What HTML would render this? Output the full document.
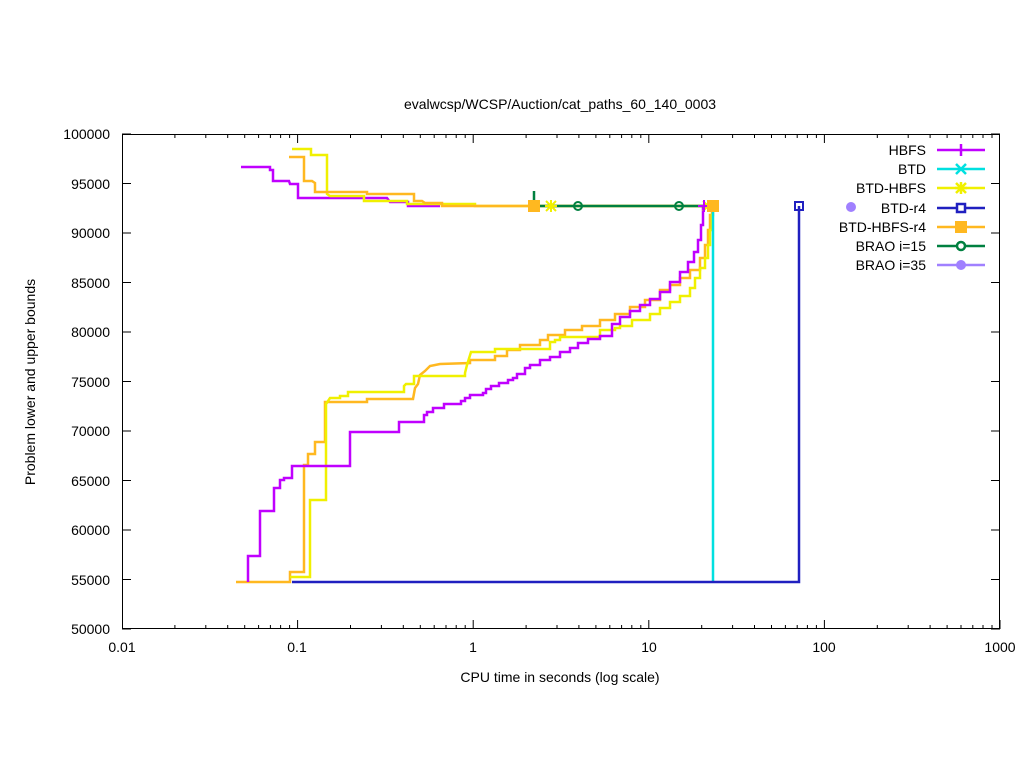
<!DOCTYPE html>
<html><head><meta charset="utf-8"><style>body{margin:0;background:#fff}svg{display:block;font-family:"Liberation Sans",sans-serif}</style></head><body>
<svg width="1024" height="768" viewBox="0 0 1024 768" xmlns="http://www.w3.org/2000/svg">
<rect width="1024" height="768" fill="#fff"/>
<text x="560" y="109" font-size="14" text-anchor="middle">evalwcsp/WCSP/Auction/cat_paths_60_140_0003</text>
<rect x="122.5" y="134.5" width="877" height="494" fill="none" stroke="#000" stroke-width="1"/>
<path stroke="#000" stroke-width="1" fill="none" d="
M122,134h9M122,183.5h9M122,233h9M122,282.5h9M122,332h9M122,381.5h9M122,431h9M122,480.5h9M122,530h9M122,579.5h9M122,629h9
M1000,134h-9M1000,183.5h-9M1000,233h-9M1000,282.5h-9M1000,332h-9M1000,381.5h-9M1000,431h-9M1000,480.5h-9M1000,530h-9M1000,579.5h-9M1000,629h-9
M297.6,629v-9M473.2,629v-9M648.8,629v-9M824.4,629v-9M1000,629v-9
M297.6,134v9M473.2,134v9M648.8,134v9M824.4,134v9
M174.9,629v-4M205.8,629v-4M227.7,629v-4M244.7,629v-4M258.6,629v-4M270.4,629v-4M280.6,629v-4M289.6,629v-4
M350.5,629v-4M381.4,629v-4M403.3,629v-4M420.3,629v-4M434.2,629v-4M446,629v-4M456.2,629v-4M465.2,629v-4
M526.1,629v-4M557,629v-4M578.9,629v-4M595.9,629v-4M609.8,629v-4M621.6,629v-4M631.8,629v-4M640.8,629v-4
M701.7,629v-4M732.6,629v-4M754.5,629v-4M771.5,629v-4M785.4,629v-4M797.2,629v-4M807.4,629v-4M816.4,629v-4
M877.3,629v-4M908.2,629v-4M930.1,629v-4M947.1,629v-4M961,629v-4M972.8,629v-4M983,629v-4M992,629v-4
M174.9,134v4M205.8,134v4M227.7,134v4M244.7,134v4M258.6,134v4M270.4,134v4M280.6,134v4M289.6,134v4
M350.5,134v4M381.4,134v4M403.3,134v4M420.3,134v4M434.2,134v4M446,134v4M456.2,134v4M465.2,134v4
M526.1,134v4M557,134v4M578.9,134v4M595.9,134v4M609.8,134v4M621.6,134v4M631.8,134v4M640.8,134v4
M701.7,134v4M732.6,134v4M754.5,134v4M771.5,134v4M785.4,134v4M797.2,134v4M807.4,134v4M816.4,134v4
M877.3,134v4M908.2,134v4M930.1,134v4M947.1,134v4M961,134v4M972.8,134v4M983,134v4M992,134v4"/>
<g font-size="14" text-anchor="end">
<text x="110" y="634">50000</text><text x="110" y="585">55000</text><text x="110" y="535">60000</text><text x="110" y="486">65000</text><text x="110" y="436">70000</text><text x="110" y="387">75000</text><text x="110" y="337">80000</text><text x="110" y="288">85000</text><text x="110" y="238">90000</text><text x="110" y="189">95000</text><text x="110" y="139">100000</text>
</g>
<g font-size="14" text-anchor="middle">
<text x="122" y="652">0.01</text><text x="297" y="652">0.1</text><text x="473" y="652">1</text><text x="649" y="652">10</text><text x="824" y="652">100</text><text x="1000" y="652">1000</text>
<text x="560" y="682">CPU time in seconds (log scale)</text>
</g>
<text transform="translate(35,382) rotate(-90)" font-size="14" text-anchor="middle">Problem lower and upper bounds</text>
<g fill="none" stroke-width="2.5">
<polyline stroke="#ffb820" points="236,582 290,582 290,572 304,572 304,465 308,465 308,454 315,454 315,442 325,442 325,402 367,402 367,399 413,399 415,388 418,384 420,375 425,371 430,366 440,364 470,363 470,360 495,360 495,356 507,356 507,350 520,350 520,345 540,345 540,340 548,340 548,335 565,335 565,330 582,330 582,326 600,326 600,320 615,320 615,314 630,314 630,307 645,307 645,300 660,300 660,290 670,290 670,285 680,285 680,278 690,278 690,270 700,270 700,258 705,258 705,245 708,245 708,230 710,230 710,215 712,215 712,206"/>
<polyline stroke="#f0f000" points="290,577 310,577 310,500 326,500 326,404 330,398 340,398 340,396 348,396 348,392 404,392 404,386 406,384 414,384 414,376 465,376 465,373 467,365 471,352 495,352 495,349 550,349 550,342 555,342 555,340 560,340 560,337 600,337 600,330 615,330 615,328 620,328 620,326 632,326 632,320 650,320 650,314 660,314 660,308 670,308 670,302 680,302 680,296 690,296 690,288 695,288 695,278 700,278 700,268 705,268 705,258 708,258 708,245 710,245 710,230 712,230 712,215 713,215 713,206"/>
<polyline stroke="#c000ff" points="248,582 248,556 260,556 260,511 274,511 274,488 280,488 280,480 284,480 284,478 292,478 292,466 350,466 350,432 399,432 399,422 424,422 424,415 427,415 427,412 433,412 433,408 444,408 444,404 461,404 461,401 465,401 465,398 470,398 470,395 483,395 483,393 486,393 486,389 491,389 491,386 499,386 499,383 508,383 508,380 513,380 513,378 517,378 517,374 525,374 525,368 530,368 530,365 540,365 540,360 550,360 550,357 560,357 560,352 570,352 570,348 578,348 578,343 588,343 588,339 600,339 600,336 612,336 612,324 620,324 620,317 630,317 630,311 640,311 640,305 650,305 650,299 660,299 660,292 670,292 670,282 680,282 680,272 688,272 688,262 694,262 694,252 698,252 698,240 701,240 701,225 703,225 703,205"/>
<polyline stroke="#c000ff" points="241,167 270,167 270,170 273,170 273,181 289,181 290,184 298,184 298,198 387,198 390,202 408,202 408,206 440,206"/>
<polyline stroke="#f0f000" points="292,149 311,149 311,155 327,155 327,194 330,196 364,196 364,201 407,201 407,204 475,204 475,206 713,206"/>
<polyline stroke="#ffb820" points="289,157 304,157 304,181 312,181 315,183 315,192 367,192 367,194 414,194 414,201 422,201 425,203 442,203 442,206 712,206"/>
<polyline stroke="#00e0e0" points="713,582 713,207"/>
<polyline stroke="#008040" points="534,191 534,206 710,206"/>
<polyline stroke="#2020c0" points="292,582 799,582 799,206"/>
</g>
<g stroke-width="2" fill="none">
<circle cx="578" cy="206" r="4" stroke="#008040"/><circle cx="679" cy="206" r="4" stroke="#008040"/>
<rect x="795" y="202" width="8" height="8" stroke="#2020c0"/>
<path d="M546,201 l10,10 M556,201 l-10,10 M551,200 v12 M545,206 h12" stroke="#f0f000"/>
<path d="M703,201 l10,10 M713,201 l-10,10" stroke="#f0f000"/>
<path d="M704,200 v12 M698,206 h12" stroke="#c000ff"/>
</g>
<rect x="528" y="200" width="12" height="12" fill="#ffb820"/>
<rect x="707" y="200" width="12" height="12" fill="#ffb820"/>
<g font-size="14" text-anchor="end">
<text x="926" y="155">HBFS</text><text x="926" y="174">BTD</text><text x="926" y="193">BTD-HBFS</text><text x="926" y="213">BTD-r4</text><text x="926" y="232">BTD-HBFS-r4</text><text x="926" y="251">BRAO i=15</text><text x="926" y="270">BRAO i=35</text>
</g>
<g stroke-width="2.5" fill="none">
<line x1="937" y1="150" x2="985" y2="150" stroke="#c000ff"/><path d="M961,144 v12" stroke="#c000ff"/>
<line x1="937" y1="169" x2="985" y2="169" stroke="#00e0e0"/><path d="M956,164 l10,10 M966,164 l-10,10" stroke="#00e0e0"/>
<line x1="937" y1="188" x2="985" y2="188" stroke="#f0f000"/><path d="M956,183 l10,10 M966,183 l-10,10 M961,182 v12 M955,188 h12" stroke="#f0f000"/>
<line x1="937" y1="208" x2="985" y2="208" stroke="#2020c0"/><rect x="957" y="204" width="8" height="8" stroke="#2020c0" fill="#fff"/>
<line x1="937" y1="227" x2="985" y2="227" stroke="#ffb820"/><rect x="955" y="221" width="12" height="12" fill="#ffb820" stroke="none"/>
<line x1="937" y1="246" x2="985" y2="246" stroke="#008040"/><circle cx="961" cy="246" r="4" stroke="#008040" fill="#fff"/>
<line x1="937" y1="265" x2="985" y2="265" stroke="#a080ff"/><circle cx="961" cy="265" r="5" fill="#a080ff" stroke="none"/>
</g>
<circle cx="851" cy="207" r="5" fill="#a080ff"/>
</svg>
</body></html>
